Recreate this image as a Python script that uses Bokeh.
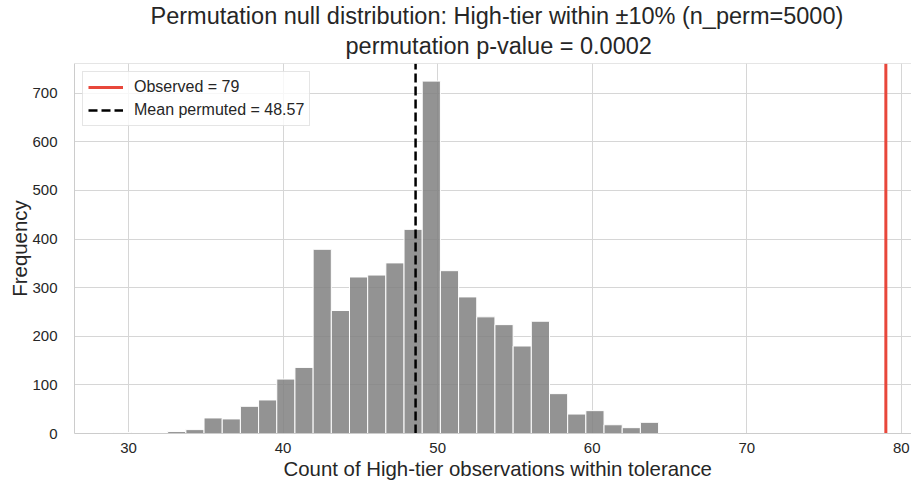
import numpy as np
from bokeh.plotting import figure
from bokeh.models import Range1d, Title, Span, FixedTicker, Legend, LegendItem
from bokeh.embed import file_html
from bokeh.resources import INLINE

# ---- data ----
bin_start = 29
bin_end = 69
n_bins = 34
counts = [2, 0, 0, 4, 8, 32, 30, 56, 69, 112, 136, 379, 253, 322, 326, 351, 420, 725,
          335, 281, 240, 224, 180, 231, 82, 40, 47, 18, 12, 23, 1, 1, 1, 1]
observed = 79
mean_permuted = 48.57
n_perm = 5000
p_value = 0.0002
x_ticks = [30, 40, 50, 60, 70, 80]
y_ticks = [0, 100, 200, 300, 400, 500, 600, 700]

title1 = f"Permutation null distribution: High-tier within \u00b110% (n_perm={n_perm})"
title2 = f"permutation p-value = {p_value:.4f}"
xlabel = "Count of High-tier observations within tolerance"
ylabel = "Frequency"

edges = np.linspace(bin_start, bin_end, n_bins + 1)
ymax = max(counts) * 1.05

FONT = "Liberation Sans"
TXT = "#262626"

p = figure(width=911, height=485, output_backend="svg", toolbar_location=None,
           title=None,
           x_range=Range1d(26.5, 80.66), y_range=Range1d(0, ymax),
           min_border_left=74, min_border_right=0, min_border_top=63, min_border_bottom=52,
           background_fill_color="white", border_fill_color="white")
p.outline_line_color = None

# titles (added nearest-first)
t2 = Title(text=title2, align="left", offset=271, text_font=FONT, text_font_size="23.5px",
           text_font_style="normal", text_color=TXT, standoff=9)
t1 = Title(text=title1, align="left", offset=76, text_font=FONT, text_font_size="23.5px",
           text_font_style="normal", text_color=TXT, standoff=-4)
p.add_layout(t2, "above")
p.add_layout(t1, "above")

# grids
p.xgrid.ticker = FixedTicker(ticks=x_ticks)
p.ygrid.ticker = FixedTicker(ticks=y_ticks)
for g in (p.xgrid, p.ygrid):
    g.grid_line_color = "#d6d6d6"
    g.grid_line_width = 1

# axes
p.xaxis.ticker = FixedTicker(ticks=x_ticks)
p.yaxis.ticker = FixedTicker(ticks=y_ticks)
for ax in (p.xaxis, p.yaxis):
    ax.axis_line_color = "#cccccc"
    ax.major_tick_line_color = None
    ax.minor_tick_line_color = None
    ax.major_label_text_font = FONT
    ax.major_label_text_font_size = "15px"
    ax.major_label_text_color = TXT
p.xaxis.major_label_standoff = 3
p.yaxis.major_label_standoff = 11

# axis labels as titles so they can be positioned like the reference
xl = Title(text=xlabel, align="left", offset=209, vertical_align="top",
           text_font=FONT, text_font_size="20.4px",
           text_font_style="normal", text_color=TXT, standoff=4)
p.add_layout(xl, "below")
yl = Title(text=ylabel, align="center", text_font=FONT, text_font_size="20.4px",
           text_font_style="normal", text_color=TXT, standoff=-3)
p.add_layout(yl, "left")

# top spine
p.add_layout(Span(location=ymax, dimension="width", line_color="#cccccc", line_width=1))

# histogram
p.quad(left=edges[:-1], right=edges[1:], bottom=0, top=counts,
       fill_color="gray", fill_alpha=0.85, line_color="white", line_width=1)

# reference lines
r_obs = p.segment(x0=[observed], y0=[0], x1=[observed], y1=[ymax],
                  line_color="#e8473b", line_width=3)
r_mean = p.segment(x0=[mean_permuted], y0=[0], x1=[mean_permuted], y1=[ymax],
                   line_color="black", line_width=2.5, line_dash="9 4")

legend = Legend(items=[LegendItem(label=f"Observed = {observed}", renderers=[r_obs]),
                       LegendItem(label=f"Mean permuted = {mean_permuted:.2f}", renderers=[r_mean])],
                location="top_left", margin=8, padding=5, spacing=3,
                glyph_width=35, glyph_height=20, label_height=20, label_standoff=11,
                label_text_font=FONT, label_text_font_size="16px", label_text_color=TXT,
                border_line_color="#cccccc", border_line_width=1,
                background_fill_color="white", background_fill_alpha=0.8)
p.add_layout(legend)

open("out.html", "w").write(file_html(p, INLINE))
